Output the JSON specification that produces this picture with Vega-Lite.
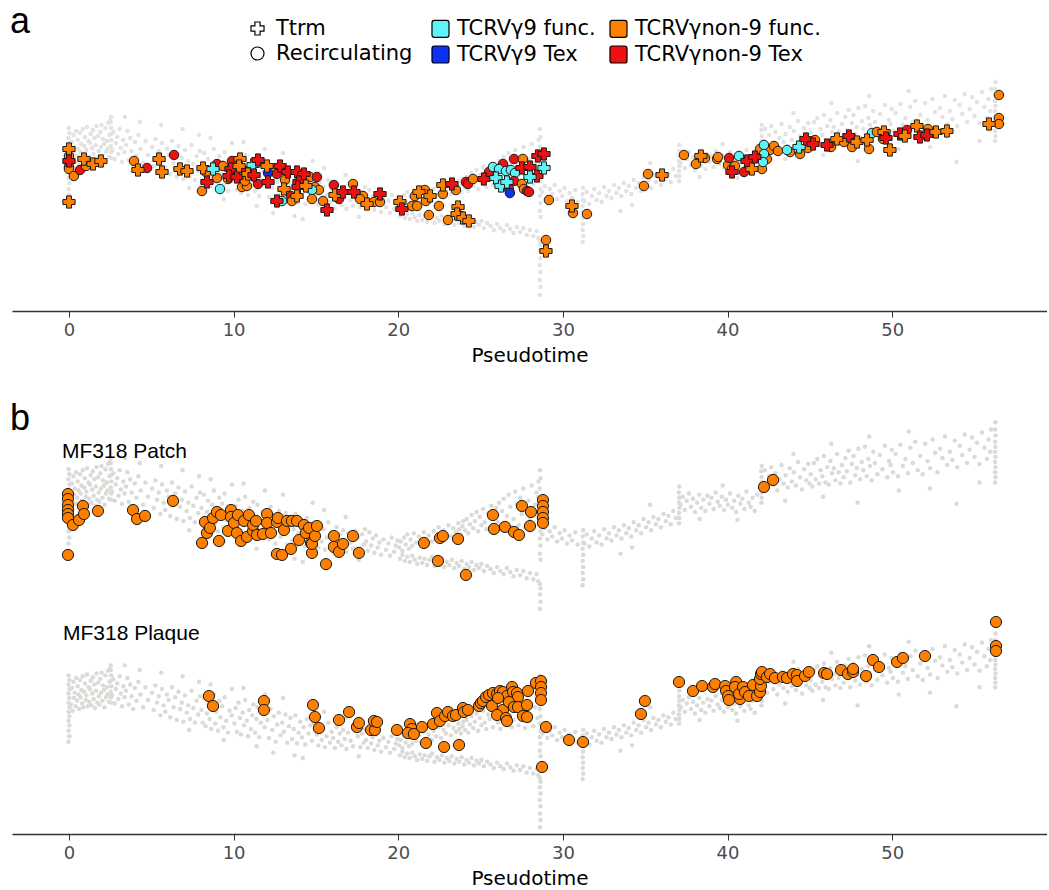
{
"$schema":"https://vega.github.io/schema/vega-lite/v6.json",
"background":"white",
"padding":{"left":10,"top":4,"right":0,"bottom":0},
"config":{"view":{"stroke":null},
"axis":{"grid":false,"domainColor":"#333333","domainWidth":1.5,"tickColor":"#333333","tickWidth":1,"tickSize":6,"labelFont":"DejaVu Sans","labelFontSize":18,"labelColor":"#4d4d4d","titleFont":"DejaVu Sans","titleFontSize":20,"titleFontWeight":"normal","titleColor":"black","labelPadding":4,"titlePadding":6}},
"datasets":{
"bg":[
{"t":-0.03,"v":11.0},{"t":0.02,"v":11.6},{"t":-0.02,"v":12.2},{"t":0.03,"v":12.8},{"t":-0.03,"v":13.3},{"t":0.02,"v":13.8},{"t":-0.02,"v":14.3},{"t":0.03,"v":14.8},{"t":-0.03,"v":15.3},{"t":0.02,"v":15.8},{"t":-0.02,"v":16.3},{"t":0.03,"v":16.8},{"t":-0.03,"v":17.3},{"t":0.02,"v":17.8},{"t":-0.02,"v":18.3},
{"t":0.12,"v":15.1},{"t":0.18,"v":16.9},{"t":0.22,"v":14.4},{"t":0.27,"v":17.6},{"t":0.31,"v":15.8},{"t":0.35,"v":16.4},{"t":0.41,"v":14.9},{"t":0.44,"v":18.0},{"t":0.5,"v":15.5},{"t":0.53,"v":17.1},{"t":0.58,"v":16.2},{"t":0.62,"v":14.6},{"t":0.67,"v":17.8},{"t":0.71,"v":15.9},{"t":0.75,"v":16.7},{"t":0.8,"v":15.2},{"t":0.84,"v":18.2},{"t":0.88,"v":14.8},{"t":0.93,"v":16.5},{"t":0.97,"v":17.4},{"t":1.02,"v":15.6},{"t":1.06,"v":16.1},{"t":1.1,"v":18.4},{"t":1.15,"v":14.9},{"t":1.19,"v":17.0},{"t":1.23,"v":15.4},{"t":1.28,"v":16.8},{"t":1.32,"v":17.7},{"t":1.36,"v":15.0},{"t":1.41,"v":16.3},{"t":1.45,"v":18.1},{"t":1.5,"v":15.7},{"t":1.54,"v":17.3},{"t":1.58,"v":14.7},{"t":1.63,"v":16.6},{"t":1.67,"v":18.5},{"t":1.72,"v":15.3},{"t":1.76,"v":17.5},{"t":1.81,"v":16.0},{"t":1.85,"v":15.1},{"t":1.9,"v":17.9},{"t":1.94,"v":16.4},{"t":1.98,"v":18.6},{"t":2.03,"v":15.5},{"t":2.07,"v":17.2},{"t":2.12,"v":16.7},{"t":2.16,"v":14.8},{"t":2.21,"v":18.3},{"t":2.25,"v":15.9},{"t":2.3,"v":17.0},{"t":2.34,"v":16.2},{"t":2.38,"v":18.8},{"t":2.43,"v":15.4},{"t":2.46,"v":17.6},{"t":2.49,"v":19.0},
{"t":2.55,"v":15.3},{"t":2.56,"v":15.9},{"t":2.54,"v":16.5},{"t":2.57,"v":17.1},{"t":2.55,"v":17.7},{"t":2.56,"v":18.3},{"t":2.54,"v":18.9},{"t":2.55,"v":19.4},
{"t":2.62,"v":16.1},{"t":2.7,"v":17.9},{"t":2.78,"v":15.2},{"t":2.85,"v":16.8},{"t":2.93,"v":17.4},{"t":3.0,"v":15.7},{"t":3.08,"v":18.2},{"t":3.15,"v":16.3},{"t":3.22,"v":14.9},{"t":3.3,"v":17.1},{"t":3.38,"v":15.9},{"t":3.46,"v":16.6},{"t":3.55,"v":18.0},{"t":3.63,"v":15.1},{"t":3.72,"v":17.3},{"t":3.8,"v":16.0},{"t":3.9,"v":14.6},{"t":4.0,"v":16.9},{"t":4.1,"v":15.5},{"t":4.22,"v":17.6},{"t":4.35,"v":16.2},{"t":4.5,"v":14.8},{"t":4.65,"v":17.0},{"t":4.8,"v":15.6},{"t":3.4,"v":19.4},{"t":4.3,"v":18.9},
{"t":5.05,"v":16.4},{"t":5.15,"v":14.5},{"t":5.25,"v":17.2},{"t":5.35,"v":15.3},{"t":5.45,"v":16.0},{"t":5.55,"v":13.9},{"t":5.65,"v":16.8},{"t":5.75,"v":15.0},{"t":5.85,"v":14.3},{"t":5.95,"v":16.2},{"t":6.05,"v":15.6},{"t":6.15,"v":13.7},{"t":6.25,"v":17.0},{"t":6.35,"v":14.8},{"t":6.45,"v":15.9},{"t":6.55,"v":13.4},{"t":6.65,"v":16.5},{"t":6.75,"v":14.6},{"t":6.85,"v":15.3},{"t":6.95,"v":13.2},{"t":7.05,"v":16.1},{"t":7.15,"v":14.2},{"t":7.25,"v":15.0},{"t":7.35,"v":13.5},{"t":7.45,"v":16.6},{"t":7.55,"v":14.7},{"t":7.65,"v":13.1},{"t":7.75,"v":15.5},{"t":7.85,"v":14.0},{"t":7.95,"v":16.0},{"t":5.6,"v":18.6},{"t":6.9,"v":18.2},{"t":7.3,"v":12.3},{"t":7.9,"v":17.6},
{"t":8.05,"v":14.5},{"t":8.12,"v":13.1},{"t":8.2,"v":15.8},{"t":8.3,"v":12.7},{"t":8.38,"v":14.1},{"t":8.45,"v":15.2},{"t":8.55,"v":13.5},{"t":8.63,"v":12.4},{"t":8.7,"v":14.8},{"t":8.8,"v":16.2},{"t":8.88,"v":13.0},{"t":8.95,"v":14.3},{"t":9.05,"v":12.2},{"t":9.13,"v":15.5},{"t":9.2,"v":13.7},{"t":9.3,"v":14.9},{"t":9.38,"v":12.6},{"t":9.45,"v":15.9},{"t":9.55,"v":13.3},{"t":9.65,"v":12.0},{"t":9.75,"v":14.4},{"t":9.88,"v":13.9},{"t":8.6,"v":17.3},{"t":9.4,"v":11.2},{"t":9.9,"v":16.8},
{"t":10.05,"v":13.0},{"t":10.12,"v":14.7},{"t":10.2,"v":12.1},{"t":10.3,"v":15.3},{"t":10.38,"v":13.6},{"t":10.45,"v":11.8},{"t":10.55,"v":14.2},{"t":10.63,"v":12.8},{"t":10.7,"v":15.6},{"t":10.8,"v":13.3},{"t":10.88,"v":11.6},{"t":10.95,"v":14.5},{"t":11.05,"v":12.4},{"t":11.13,"v":13.9},{"t":11.2,"v":15.1},{"t":11.3,"v":12.0},{"t":11.38,"v":13.5},{"t":11.45,"v":14.8},{"t":11.55,"v":11.5},{"t":11.65,"v":13.1},{"t":11.75,"v":14.1},{"t":11.88,"v":12.6},{"t":10.6,"v":16.9},{"t":11.4,"v":10.5},{"t":11.9,"v":16.2},
{"t":12.05,"v":13.4},{"t":12.15,"v":11.4},{"t":12.25,"v":14.6},{"t":12.35,"v":12.3},{"t":12.45,"v":13.8},{"t":12.55,"v":11.0},{"t":12.65,"v":12.9},{"t":12.75,"v":14.2},{"t":12.85,"v":11.7},{"t":12.95,"v":13.1},{"t":13.05,"v":12.1},{"t":13.15,"v":14.0},{"t":13.25,"v":10.9},{"t":13.35,"v":12.7},{"t":13.45,"v":13.6},{"t":13.55,"v":11.3},{"t":13.65,"v":12.4},{"t":13.75,"v":13.9},{"t":13.85,"v":10.8},{"t":13.95,"v":12.0},{"t":14.05,"v":13.2},{"t":14.15,"v":11.5},{"t":14.25,"v":12.6},{"t":14.35,"v":10.7},{"t":14.45,"v":13.5},{"t":14.55,"v":11.9},{"t":14.65,"v":12.8},{"t":14.75,"v":11.1},{"t":14.85,"v":13.0},{"t":14.95,"v":12.2},{"t":12.4,"v":9.8},{"t":13.0,"v":15.8},{"t":13.7,"v":9.5},{"t":14.2,"v":9.2},{"t":14.8,"v":15.0},
{"t":15.05,"v":11.8},{"t":15.15,"v":10.6},{"t":15.25,"v":12.9},{"t":15.35,"v":11.2},{"t":15.45,"v":12.4},{"t":15.55,"v":10.4},{"t":15.65,"v":11.6},{"t":15.75,"v":13.1},{"t":15.85,"v":10.9},{"t":15.95,"v":12.1},{"t":16.05,"v":11.4},{"t":16.15,"v":10.3},{"t":16.25,"v":12.6},{"t":16.35,"v":11.0},{"t":16.45,"v":11.9},{"t":16.55,"v":10.6},{"t":16.65,"v":12.3},{"t":16.75,"v":11.3},{"t":16.85,"v":10.2},{"t":16.95,"v":12.0},{"t":17.1,"v":11.1},{"t":17.25,"v":10.5},{"t":17.4,"v":12.2},{"t":17.55,"v":11.6},{"t":17.7,"v":10.4},{"t":17.8,"v":11.9},{"t":17.9,"v":10.9},{"t":17.98,"v":12.4},{"t":15.5,"v":14.3},{"t":16.8,"v":13.6},{"t":17.6,"v":9.4},
{"t":18.05,"v":11.2},{"t":18.15,"v":10.3},{"t":18.25,"v":12.1},{"t":18.35,"v":10.8},{"t":18.45,"v":11.5},{"t":18.55,"v":10.1},{"t":18.65,"v":11.8},{"t":18.75,"v":10.6},{"t":18.85,"v":11.1},{"t":18.95,"v":9.9},{"t":19.1,"v":11.4},{"t":19.25,"v":10.4},{"t":19.4,"v":11.0},{"t":19.5,"v":9.8},{"t":19.6,"v":11.6},{"t":19.75,"v":10.2},{"t":19.85,"v":10.8},{"t":19.95,"v":11.3},
{"t":20.05,"v":10.6},{"t":20.15,"v":11.2},{"t":20.25,"v":10.3},{"t":20.35,"v":11.6},{"t":20.45,"v":10.9},{"t":20.55,"v":11.9},{"t":20.65,"v":10.5},{"t":20.75,"v":11.4},{"t":20.85,"v":10.8},{"t":20.95,"v":12.0},{"t":21.1,"v":11.1},{"t":21.25,"v":11.7},{"t":21.4,"v":10.9},{"t":21.55,"v":12.1},{"t":21.7,"v":11.3},{"t":21.85,"v":11.8},
{"t":22.05,"v":11.2},{"t":22.15,"v":12.2},{"t":22.3,"v":11.6},{"t":22.45,"v":12.6},{"t":22.6,"v":11.4},{"t":22.75,"v":12.3},{"t":22.9,"v":11.9},{"t":23.05,"v":12.8},{"t":23.2,"v":11.7},{"t":23.35,"v":12.5},{"t":23.5,"v":12.1},{"t":23.65,"v":13.0},{"t":23.8,"v":11.9},{"t":23.9,"v":12.7},{"t":23.95,"v":13.2},{"t":23.7,"v":12.4},
{"t":24.05,"v":12.3},{"t":24.15,"v":13.4},{"t":24.25,"v":12.0},{"t":24.35,"v":12.9},{"t":24.45,"v":13.8},{"t":24.55,"v":12.5},{"t":24.65,"v":13.2},{"t":24.75,"v":14.1},{"t":24.85,"v":12.2},{"t":24.95,"v":13.6},{"t":25.05,"v":12.8},{"t":25.15,"v":14.4},{"t":25.25,"v":13.1},{"t":25.35,"v":12.4},{"t":25.45,"v":14.0},{"t":25.55,"v":13.5},{"t":25.65,"v":14.7},{"t":25.75,"v":12.6},{"t":25.85,"v":13.9},{"t":25.95,"v":14.5},
{"t":26.05,"v":13.1},{"t":26.12,"v":15.0},{"t":26.2,"v":12.4},{"t":26.3,"v":14.2},{"t":26.4,"v":15.4},{"t":26.5,"v":12.9},{"t":26.6,"v":13.7},{"t":26.7,"v":15.8},{"t":26.8,"v":14.6},{"t":26.9,"v":12.6},{"t":27.0,"v":13.4},{"t":27.1,"v":16.1},{"t":27.2,"v":14.9},{"t":27.3,"v":12.8},{"t":27.4,"v":15.5},{"t":27.5,"v":13.9},{"t":27.6,"v":16.4},{"t":27.7,"v":12.5},{"t":27.8,"v":14.4},{"t":27.9,"v":15.2},{"t":28.0,"v":13.3},{"t":28.1,"v":16.7},{"t":28.2,"v":12.7},{"t":28.3,"v":14.8},{"t":28.4,"v":16.0},{"t":28.45,"v":13.6},{"t":28.5,"v":15.6},{"t":28.52,"v":17.1},
{"t":20.1,"v":9.5},{"t":20.25,"v":9.9},{"t":20.4,"v":9.3},{"t":20.55,"v":9.7},{"t":20.7,"v":9.2},{"t":20.85,"v":9.8},{"t":21.0,"v":9.4},{"t":21.15,"v":9.0},{"t":21.3,"v":9.6},{"t":21.45,"v":9.1},{"t":21.6,"v":9.5},{"t":21.75,"v":8.9},{"t":21.9,"v":9.4},{"t":22.05,"v":9.7},{"t":22.2,"v":8.8},{"t":22.35,"v":9.3},{"t":22.5,"v":9.0},{"t":22.65,"v":9.5},{"t":22.8,"v":8.7},{"t":22.95,"v":9.2},{"t":23.1,"v":8.9},{"t":23.25,"v":9.4},{"t":23.4,"v":8.6},{"t":23.55,"v":9.1},{"t":23.7,"v":8.8},{"t":23.85,"v":9.3},{"t":24.0,"v":8.5},{"t":24.15,"v":9.0},{"t":24.3,"v":8.7},{"t":24.45,"v":9.2},{"t":24.6,"v":8.4},{"t":24.75,"v":8.9},{"t":24.9,"v":8.6},{"t":25.05,"v":9.0},{"t":25.2,"v":8.3},{"t":25.4,"v":8.8},{"t":25.6,"v":8.5},{"t":25.8,"v":8.1},{"t":26.0,"v":8.7},{"t":26.2,"v":8.3},{"t":26.4,"v":8.0},{"t":26.6,"v":8.6},{"t":26.8,"v":8.2},{"t":27.0,"v":7.8},{"t":27.2,"v":8.4},{"t":27.4,"v":7.9},{"t":27.6,"v":8.3},{"t":27.8,"v":7.6},{"t":28.0,"v":8.1},{"t":28.2,"v":7.5},{"t":28.4,"v":8.0},{"t":28.5,"v":7.3},
{"t":28.6,"v":1.6},{"t":28.64,"v":2.4},{"t":28.6,"v":3.1},{"t":28.64,"v":3.9},{"t":28.6,"v":4.6},{"t":28.64,"v":5.3},{"t":28.6,"v":6.0},{"t":28.64,"v":6.6},{"t":28.6,"v":7.0},{"t":28.64,"v":9.4},{"t":28.6,"v":10.0},{"t":28.64,"v":10.8},{"t":28.6,"v":11.5},{"t":28.64,"v":12.2},{"t":28.6,"v":13.0},{"t":28.64,"v":13.8},{"t":28.6,"v":14.6},{"t":28.64,"v":15.4},{"t":28.6,"v":16.4},{"t":28.64,"v":17.4},{"t":28.6,"v":18.2},
{"t":28.75,"v":11.9},{"t":28.9,"v":12.5},{"t":29.05,"v":11.4},{"t":29.2,"v":12.2},{"t":29.35,"v":11.7},{"t":29.5,"v":12.6},{"t":29.65,"v":11.2},{"t":29.8,"v":12.0},{"t":29.95,"v":11.5},{"t":30.1,"v":12.3},{"t":30.25,"v":11.0},{"t":30.4,"v":11.8},{"t":30.55,"v":11.3},{"t":30.75,"v":12.1},{"t":30.9,"v":10.9},
{"t":31.2,"v":6.9},{"t":31.23,"v":7.5},{"t":31.2,"v":8.1},{"t":31.23,"v":8.7},{"t":31.2,"v":9.3},{"t":31.23,"v":9.9},{"t":31.2,"v":10.5},{"t":31.23,"v":11.1},{"t":31.2,"v":11.7},{"t":31.23,"v":12.3},
{"t":31.3,"v":11.0},{"t":31.45,"v":11.9},{"t":31.6,"v":10.7},{"t":31.75,"v":11.5},{"t":31.9,"v":12.2},{"t":32.05,"v":11.1},{"t":32.2,"v":11.8},{"t":32.35,"v":10.9},{"t":32.5,"v":12.4},{"t":32.65,"v":11.5},{"t":32.8,"v":12.0},{"t":32.95,"v":11.3},{"t":33.1,"v":12.6},{"t":33.25,"v":11.8},{"t":33.4,"v":12.3},{"t":33.55,"v":11.5},{"t":33.7,"v":12.8},{"t":33.85,"v":12.0},{"t":34.0,"v":12.5},{"t":34.15,"v":11.7},{"t":34.3,"v":13.1},{"t":34.45,"v":12.3},{"t":34.6,"v":12.8},{"t":34.75,"v":12.0},{"t":34.9,"v":13.4},{"t":35.05,"v":12.6},{"t":35.2,"v":13.1},{"t":35.35,"v":12.3},{"t":35.5,"v":13.6},{"t":35.65,"v":12.9},{"t":35.8,"v":13.4},{"t":35.95,"v":12.6},{"t":36.1,"v":13.9},{"t":36.25,"v":13.2},{"t":36.4,"v":13.7},{"t":36.55,"v":12.9},{"t":36.7,"v":14.2},{"t":36.85,"v":13.5},{"t":33.5,"v":10.0},{"t":35.3,"v":14.8},{"t":34.2,"v":10.6},
{"t":37.05,"v":13.0},{"t":37.07,"v":13.5},{"t":37.05,"v":14.0},{"t":37.07,"v":14.5},{"t":37.05,"v":15.0},{"t":37.07,"v":15.5},{"t":37.05,"v":16.0},{"t":37.07,"v":16.6},
{"t":37.15,"v":14.8},{"t":37.28,"v":15.6},{"t":37.4,"v":14.3},{"t":37.52,"v":15.2},{"t":37.65,"v":15.9},{"t":37.78,"v":14.6},{"t":37.9,"v":15.4},{"t":38.02,"v":14.1},{"t":38.15,"v":15.0},{"t":38.28,"v":15.8},{"t":38.4,"v":14.5},{"t":38.52,"v":15.3},{"t":38.65,"v":14.2},{"t":38.78,"v":15.7},{"t":38.9,"v":14.9},{"t":39.02,"v":15.5},{"t":39.15,"v":14.4},{"t":39.28,"v":16.0},{"t":39.4,"v":15.1},{"t":39.52,"v":14.7},{"t":39.65,"v":15.6},{"t":39.78,"v":14.3},{"t":39.9,"v":15.3},{"t":40.02,"v":14.8},{"t":40.15,"v":15.9},{"t":40.28,"v":14.5},{"t":40.4,"v":15.2},{"t":40.52,"v":14.1},{"t":40.65,"v":15.7},{"t":40.78,"v":14.9},{"t":40.9,"v":15.4},{"t":41.02,"v":14.4},{"t":41.15,"v":16.1},{"t":41.28,"v":15.0},{"t":41.4,"v":14.6},{"t":41.52,"v":15.5},{"t":41.65,"v":14.2},{"t":41.8,"v":15.8},{"t":38.3,"v":13.4},{"t":40.6,"v":13.3},{"t":39.7,"v":16.7},
{"t":42.05,"v":15.0},{"t":42.07,"v":15.5},{"t":42.05,"v":16.0},{"t":42.07,"v":16.5},{"t":42.05,"v":17.0},{"t":42.07,"v":17.5},{"t":42.05,"v":18.1},{"t":42.07,"v":18.6},
{"t":42.15,"v":17.0},{"t":42.27,"v":18.2},{"t":42.4,"v":16.4},{"t":42.52,"v":17.6},{"t":42.65,"v":18.5},{"t":42.78,"v":16.8},{"t":42.9,"v":17.9},{"t":43.02,"v":16.2},{"t":43.15,"v":17.3},{"t":43.28,"v":18.7},{"t":43.4,"v":16.9},{"t":43.52,"v":17.7},{"t":43.65,"v":16.5},{"t":43.78,"v":18.4},{"t":43.9,"v":17.1},{"t":44.02,"v":18.0},{"t":44.15,"v":16.7},{"t":44.28,"v":19.0},{"t":44.4,"v":17.5},{"t":44.52,"v":16.3},{"t":44.65,"v":18.3},{"t":44.78,"v":17.2},{"t":44.9,"v":18.8},{"t":44.98,"v":16.9},
{"t":45.05,"v":17.8},{"t":45.15,"v":16.6},{"t":45.25,"v":18.9},{"t":45.35,"v":17.3},{"t":45.45,"v":19.3},{"t":45.55,"v":16.9},{"t":45.65,"v":18.2},{"t":45.75,"v":17.6},{"t":45.85,"v":19.6},{"t":45.95,"v":17.0},{"t":46.05,"v":18.5},{"t":46.15,"v":16.8},{"t":46.25,"v":19.1},{"t":46.35,"v":17.9},{"t":46.45,"v":18.4},{"t":46.55,"v":17.2},{"t":46.65,"v":19.8},{"t":46.75,"v":18.0},{"t":46.85,"v":16.9},{"t":46.95,"v":18.7},
{"t":47.05,"v":17.5},{"t":47.15,"v":19.4},{"t":47.25,"v":18.1},{"t":47.35,"v":20.1},{"t":47.45,"v":17.0},{"t":47.55,"v":18.8},{"t":47.65,"v":19.6},{"t":47.75,"v":17.7},{"t":47.85,"v":18.4},{"t":47.95,"v":20.3},{"t":48.05,"v":17.3},{"t":48.15,"v":19.0},{"t":48.25,"v":18.2},{"t":48.35,"v":20.5},{"t":48.45,"v":17.6},{"t":48.55,"v":19.3},{"t":48.65,"v":18.6},{"t":48.75,"v":17.2},{"t":48.85,"v":20.0},{"t":48.95,"v":18.9},{"t":49.1,"v":17.8},{"t":49.25,"v":19.7},{"t":49.4,"v":18.3},{"t":49.55,"v":20.6},{"t":49.7,"v":17.5},{"t":49.8,"v":19.1},{"t":49.9,"v":18.7},{"t":49.97,"v":20.2},
{"t":50.05,"v":18.0},{"t":50.2,"v":19.8},{"t":50.35,"v":17.6},{"t":50.5,"v":20.7},{"t":50.65,"v":18.6},{"t":50.8,"v":19.3},{"t":50.95,"v":17.9},{"t":51.1,"v":20.4},{"t":51.25,"v":18.9},{"t":51.4,"v":21.0},{"t":51.55,"v":18.2},{"t":51.7,"v":19.6},{"t":51.85,"v":17.8},{"t":52.0,"v":20.8},{"t":52.15,"v":19.1},{"t":52.3,"v":18.4},{"t":52.45,"v":21.2},{"t":52.6,"v":19.9},{"t":52.75,"v":18.0},{"t":52.9,"v":20.3},{"t":53.05,"v":19.4},{"t":53.2,"v":21.5},{"t":53.35,"v":18.7},{"t":53.5,"v":20.0},
{"t":53.65,"v":19.2},{"t":53.8,"v":21.1},{"t":53.95,"v":18.5},{"t":54.1,"v":20.6},{"t":54.25,"v":19.7},{"t":54.4,"v":21.7},{"t":54.55,"v":18.9},{"t":54.7,"v":20.2},{"t":54.85,"v":21.4},{"t":55.0,"v":19.5},{"t":55.15,"v":20.9},{"t":55.3,"v":18.8},{"t":55.45,"v":21.9},{"t":55.6,"v":20.4},{"t":55.75,"v":19.3},{"t":55.85,"v":21.2},{"t":55.95,"v":20.0},{"t":56.0,"v":22.2},
{"t":43.5,"v":15.2},{"t":45.8,"v":15.6},{"t":47.9,"v":15.0},{"t":50.4,"v":16.2},{"t":52.3,"v":16.4},{"t":53.9,"v":14.9},{"t":55.3,"v":17.0},{"t":48.6,"v":21.5},{"t":51.0,"v":22.0},{"t":46.3,"v":20.8},{"t":44.0,"v":19.8},
{"t":56.25,"v":17.0},{"t":56.27,"v":17.5},{"t":56.25,"v":18.0},{"t":56.27,"v":18.5},{"t":56.25,"v":19.0},{"t":56.27,"v":19.5},{"t":56.25,"v":20.0},{"t":56.27,"v":20.5},{"t":56.25,"v":21.0},{"t":56.27,"v":21.6},{"t":56.25,"v":22.2},{"t":56.27,"v":22.9}
],
"a":[
{"t":0,"v":16.2,"shape":"Ttrm","cat":"TCRVγnon-9 func."},
{"t":0,"v":15.5,"shape":"Recirculating","cat":"TCRVγnon-9 func."},
{"t":0,"v":14.9,"shape":"Recirculating","cat":"TCRVγnon-9 func."},
{"t":0,"v":14.4,"shape":"Recirculating","cat":"TCRVγnon-9 func."},
{"t":0,"v":14.2,"shape":"Recirculating","cat":"TCRVγnon-9 func."},
{"t":0,"v":15.0,"shape":"Ttrm","cat":"TCRVγnon-9 Tex"},
{"t":0.3,"v":13.5,"shape":"Recirculating","cat":"TCRVγnon-9 func."},
{"t":0.67,"v":14.1,"shape":"Recirculating","cat":"TCRVγnon-9 Tex"},
{"t":0.91,"v":15.2,"shape":"Ttrm","cat":"TCRVγnon-9 func."},
{"t":1.03,"v":14.5,"shape":"Recirculating","cat":"TCRVγnon-9 func."},
{"t":1.46,"v":14.7,"shape":"Ttrm","cat":"TCRVγnon-9 func."},
{"t":1.94,"v":15.0,"shape":"Ttrm","cat":"TCRVγnon-9 func."},
{"t":0,"v":10.9,"shape":"Ttrm","cat":"TCRVγnon-9 func."},
{"t":3.95,"v":15.0,"shape":"Recirculating","cat":"TCRVγnon-9 func."},
{"t":4.19,"v":14.1,"shape":"Ttrm","cat":"TCRVγnon-9 func."},
{"t":4.74,"v":14.3,"shape":"Recirculating","cat":"TCRVγnon-9 Tex"},
{"t":5.47,"v":15.2,"shape":"Ttrm","cat":"TCRVγnon-9 func."},
{"t":5.65,"v":13.9,"shape":"Ttrm","cat":"TCRVγnon-9 func."},
{"t":6.38,"v":15.6,"shape":"Recirculating","cat":"TCRVγnon-9 Tex"},
{"t":6.74,"v":14.2,"shape":"Ttrm","cat":"TCRVγnon-9 func."},
{"t":7.17,"v":14.0,"shape":"Ttrm","cat":"TCRVγnon-9 func."},
{"t":8.14,"v":14.3,"shape":"Ttrm","cat":"TCRVγnon-9 func."},
{"t":8.32,"v":13.9,"shape":"Recirculating","cat":"TCRVγnon-9 func."},
{"t":8.99,"v":14.7,"shape":"Recirculating","cat":"TCRVγnon-9 Tex"},
{"t":9.35,"v":14.5,"shape":"Recirculating","cat":"TCRVγnon-9 func."},
{"t":8.99,"v":13.3,"shape":"Recirculating","cat":"TCRVγnon-9 func."},
{"t":8.38,"v":12.9,"shape":"Ttrm","cat":"TCRVγnon-9 Tex"},
{"t":8.08,"v":12.0,"shape":"Recirculating","cat":"TCRVγnon-9 func."},
{"t":8.75,"v":14.2,"shape":"Ttrm","cat":"TCRVγ9 func."},
{"t":9.17,"v":12.2,"shape":"Recirculating","cat":"TCRVγ9 func."},
{"t":9.9,"v":15.0,"shape":"Recirculating","cat":"TCRVγnon-9 Tex"},
{"t":10.39,"v":15.2,"shape":"Ttrm","cat":"TCRVγnon-9 func."},
{"t":9.66,"v":13.2,"shape":"Recirculating","cat":"TCRVγnon-9 func."},
{"t":9.84,"v":14.2,"shape":"Ttrm","cat":"TCRVγnon-9 Tex"},
{"t":9.72,"v":13.5,"shape":"Ttrm","cat":"TCRVγnon-9 Tex"},
{"t":10.2,"v":13.4,"shape":"Ttrm","cat":"TCRVγnon-9 Tex"},
{"t":10.33,"v":14.5,"shape":"Ttrm","cat":"TCRVγnon-9 func."},
{"t":10.69,"v":14.0,"shape":"Recirculating","cat":"TCRVγnon-9 Tex"},
{"t":10.87,"v":13.7,"shape":"Ttrm","cat":"TCRVγnon-9 func."},
{"t":10.51,"v":12.4,"shape":"Recirculating","cat":"TCRVγnon-9 func."},
{"t":10.81,"v":12.5,"shape":"Recirculating","cat":"TCRVγnon-9 func."},
{"t":10.69,"v":13.0,"shape":"Recirculating","cat":"TCRVγnon-9 func."},
{"t":11.18,"v":14.6,"shape":"Ttrm","cat":"TCRVγ9 func."},
{"t":11.48,"v":15.1,"shape":"Ttrm","cat":"TCRVγnon-9 Tex"},
{"t":11.24,"v":13.6,"shape":"Ttrm","cat":"TCRVγnon-9 Tex"},
{"t":11.48,"v":12.7,"shape":"Recirculating","cat":"TCRVγnon-9 Tex"},
{"t":12.03,"v":14.5,"shape":"Ttrm","cat":"TCRVγnon-9 func."},
{"t":12.39,"v":14.2,"shape":"Recirculating","cat":"TCRVγnon-9 func."},
{"t":12.09,"v":12.9,"shape":"Ttrm","cat":"TCRVγnon-9 Tex"},
{"t":12.09,"v":13.8,"shape":"Recirculating","cat":"TCRVγ9 Tex"},
{"t":12.63,"v":13.7,"shape":"Recirculating","cat":"TCRVγnon-9 Tex"},
{"t":12.82,"v":14.5,"shape":"Ttrm","cat":"TCRVγnon-9 Tex"},
{"t":13.12,"v":13.1,"shape":"Recirculating","cat":"TCRVγnon-9 func."},
{"t":13.06,"v":12.2,"shape":"Ttrm","cat":"TCRVγnon-9 func."},
{"t":13.3,"v":13.9,"shape":"Ttrm","cat":"TCRVγnon-9 Tex"},
{"t":13.85,"v":13.9,"shape":"Ttrm","cat":"TCRVγnon-9 Tex"},
{"t":14.27,"v":13.7,"shape":"Ttrm","cat":"TCRVγnon-9 Tex"},
{"t":13.97,"v":12.9,"shape":"Ttrm","cat":"TCRVγnon-9 Tex"},
{"t":13.91,"v":12.4,"shape":"Ttrm","cat":"TCRVγnon-9 Tex"},
{"t":14.64,"v":13.4,"shape":"Recirculating","cat":"TCRVγnon-9 func."},
{"t":15.06,"v":13.4,"shape":"Recirculating","cat":"TCRVγnon-9 Tex"},
{"t":14.39,"v":12.5,"shape":"Ttrm","cat":"TCRVγnon-9 func."},
{"t":14.94,"v":12.4,"shape":"Recirculating","cat":"TCRVγnon-9 func."},
{"t":15.18,"v":12.1,"shape":"Recirculating","cat":"TCRVγnon-9 func."},
{"t":14.76,"v":12.1,"shape":"Recirculating","cat":"TCRVγ9 func."},
{"t":13.85,"v":11.5,"shape":"Ttrm","cat":"TCRVγnon-9 func."},
{"t":13.48,"v":11.5,"shape":"Recirculating","cat":"TCRVγnon-9 Tex"},
{"t":12.63,"v":11.0,"shape":"Ttrm","cat":"TCRVγnon-9 Tex"},
{"t":12.94,"v":11.0,"shape":"Recirculating","cat":"TCRVγ9 func."},
{"t":13.54,"v":11.0,"shape":"Recirculating","cat":"TCRVγnon-9 func."},
{"t":14.76,"v":11.2,"shape":"Recirculating","cat":"TCRVγnon-9 func."},
{"t":15.43,"v":11.0,"shape":"Recirculating","cat":"TCRVγnon-9 func."},
{"t":15.67,"v":10.1,"shape":"Ttrm","cat":"TCRVγnon-9 Tex"},
{"t":16.09,"v":12.6,"shape":"Recirculating","cat":"TCRVγnon-9 Tex"},
{"t":16.16,"v":11.6,"shape":"Ttrm","cat":"TCRVγnon-9 func."},
{"t":16.4,"v":11.2,"shape":"Recirculating","cat":"TCRVγnon-9 Tex"},
{"t":16.64,"v":11.9,"shape":"Ttrm","cat":"TCRVγnon-9 Tex"},
{"t":17.25,"v":12.7,"shape":"Recirculating","cat":"TCRVγnon-9 func."},
{"t":17.31,"v":11.9,"shape":"Ttrm","cat":"TCRVγnon-9 Tex"},
{"t":17.86,"v":11.5,"shape":"Recirculating","cat":"TCRVγnon-9 func."},
{"t":17.67,"v":11.2,"shape":"Recirculating","cat":"TCRVγnon-9 func."},
{"t":18.1,"v":10.7,"shape":"Ttrm","cat":"TCRVγnon-9 func."},
{"t":18.52,"v":10.9,"shape":"Recirculating","cat":"TCRVγnon-9 func."},
{"t":18.89,"v":10.9,"shape":"Recirculating","cat":"TCRVγnon-9 func."},
{"t":18.89,"v":11.7,"shape":"Ttrm","cat":"TCRVγnon-9 Tex"},
{"t":20.1,"v":10.9,"shape":"Ttrm","cat":"TCRVγnon-9 func."},
{"t":20.22,"v":10.2,"shape":"Ttrm","cat":"TCRVγnon-9 Tex"},
{"t":20.83,"v":10.5,"shape":"Recirculating","cat":"TCRVγnon-9 func."},
{"t":21.14,"v":10.5,"shape":"Recirculating","cat":"TCRVγnon-9 func."},
{"t":21.01,"v":11.5,"shape":"Recirculating","cat":"TCRVγnon-9 func."},
{"t":21.26,"v":11.9,"shape":"Ttrm","cat":"TCRVγnon-9 func."},
{"t":21.62,"v":12.1,"shape":"Recirculating","cat":"TCRVγnon-9 func."},
{"t":21.93,"v":11.5,"shape":"Ttrm","cat":"TCRVγnon-9 func."},
{"t":21.68,"v":11.0,"shape":"Recirculating","cat":"TCRVγnon-9 func."},
{"t":22.47,"v":10.5,"shape":"Recirculating","cat":"TCRVγnon-9 func."},
{"t":21.86,"v":9.6,"shape":"Recirculating","cat":"TCRVγnon-9 func."},
{"t":22.71,"v":12.6,"shape":"Ttrm","cat":"TCRVγnon-9 func."},
{"t":22.71,"v":11.7,"shape":"Recirculating","cat":"TCRVγnon-9 func."},
{"t":23.26,"v":12.7,"shape":"Ttrm","cat":"TCRVγnon-9 Tex"},
{"t":23.5,"v":12.1,"shape":"Recirculating","cat":"TCRVγnon-9 func."},
{"t":24.11,"v":12.9,"shape":"Recirculating","cat":"TCRVγnon-9 Tex"},
{"t":24.23,"v":12.7,"shape":"Recirculating","cat":"TCRVγnon-9 Tex"},
{"t":24.54,"v":13.2,"shape":"Recirculating","cat":"TCRVγnon-9 func."},
{"t":25.2,"v":13.2,"shape":"Ttrm","cat":"TCRVγnon-9 Tex"},
{"t":23.63,"v":10.4,"shape":"Ttrm","cat":"TCRVγnon-9 func."},
{"t":23.57,"v":9.7,"shape":"Ttrm","cat":"TCRVγnon-9 func."},
{"t":23.93,"v":9.3,"shape":"Ttrm","cat":"TCRVγnon-9 func."},
{"t":24.29,"v":9.0,"shape":"Ttrm","cat":"TCRVγnon-9 func."},
{"t":23.02,"v":9.1,"shape":"Recirculating","cat":"TCRVγnon-9 func."},
{"t":25.51,"v":13.9,"shape":"Recirculating","cat":"TCRVγnon-9 Tex"},
{"t":26.36,"v":14.7,"shape":"Recirculating","cat":"TCRVγnon-9 Tex"},
{"t":27.03,"v":15.2,"shape":"Recirculating","cat":"TCRVγnon-9 Tex"},
{"t":27.57,"v":15.2,"shape":"Recirculating","cat":"TCRVγnon-9 func."},
{"t":25.75,"v":14.4,"shape":"Recirculating","cat":"TCRVγ9 func."},
{"t":26.12,"v":14.2,"shape":"Recirculating","cat":"TCRVγ9 func."},
{"t":26.54,"v":14.0,"shape":"Recirculating","cat":"TCRVγ9 func."},
{"t":26.84,"v":14.1,"shape":"Recirculating","cat":"TCRVγ9 func."},
{"t":27.09,"v":13.8,"shape":"Recirculating","cat":"TCRVγ9 func."},
{"t":27.03,"v":13.0,"shape":"Recirculating","cat":"TCRVγnon-9 Tex"},
{"t":27.51,"v":12.7,"shape":"Recirculating","cat":"TCRVγnon-9 func."},
{"t":27.63,"v":12.2,"shape":"Recirculating","cat":"TCRVγnon-9 func."},
{"t":27.82,"v":12.0,"shape":"Recirculating","cat":"TCRVγnon-9 Tex"},
{"t":27.94,"v":11.9,"shape":"Recirculating","cat":"TCRVγnon-9 Tex"},
{"t":26.72,"v":12.2,"shape":"Recirculating","cat":"TCRVγnon-9 Tex"},
{"t":26.78,"v":11.8,"shape":"Recirculating","cat":"TCRVγ9 Tex"},
{"t":27.51,"v":14.3,"shape":"Ttrm","cat":"TCRVγnon-9 Tex"},
{"t":28.0,"v":14.4,"shape":"Ttrm","cat":"TCRVγnon-9 Tex"},
{"t":28.42,"v":13.5,"shape":"Ttrm","cat":"TCRVγnon-9 Tex"},
{"t":28.48,"v":15.5,"shape":"Ttrm","cat":"TCRVγnon-9 Tex"},
{"t":28.85,"v":15.7,"shape":"Ttrm","cat":"TCRVγnon-9 Tex"},
{"t":25.93,"v":13.3,"shape":"Ttrm","cat":"TCRVγ9 func."},
{"t":26.24,"v":12.5,"shape":"Ttrm","cat":"TCRVγ9 func."},
{"t":26.6,"v":12.9,"shape":"Ttrm","cat":"TCRVγ9 func."},
{"t":28.0,"v":13.4,"shape":"Ttrm","cat":"TCRVγ9 func."},
{"t":28.85,"v":14.3,"shape":"Ttrm","cat":"TCRVγ9 func."},
{"t":29.15,"v":11.1,"shape":"Recirculating","cat":"TCRVγnon-9 func."},
{"t":30.55,"v":10.5,"shape":"Ttrm","cat":"TCRVγnon-9 func."},
{"t":30.61,"v":9.8,"shape":"Recirculating","cat":"TCRVγnon-9 func."},
{"t":31.46,"v":9.7,"shape":"Recirculating","cat":"TCRVγnon-9 func."},
{"t":28.97,"v":7.1,"shape":"Recirculating","cat":"TCRVγnon-9 func."},
{"t":28.97,"v":6.0,"shape":"Ttrm","cat":"TCRVγnon-9 func."},
{"t":35.17,"v":13.7,"shape":"Recirculating","cat":"TCRVγnon-9 func."},
{"t":34.92,"v":12.5,"shape":"Recirculating","cat":"TCRVγnon-9 func."},
{"t":36.02,"v":13.6,"shape":"Ttrm","cat":"TCRVγnon-9 func."},
{"t":37.35,"v":15.6,"shape":"Recirculating","cat":"TCRVγnon-9 func."},
{"t":38.08,"v":14.7,"shape":"Recirculating","cat":"TCRVγnon-9 func."},
{"t":38.38,"v":15.5,"shape":"Ttrm","cat":"TCRVγnon-9 func."},
{"t":38.63,"v":15.3,"shape":"Recirculating","cat":"TCRVγnon-9 func."},
{"t":39.36,"v":15.2,"shape":"Recirculating","cat":"TCRVγnon-9 func."},
{"t":39.42,"v":15.4,"shape":"Recirculating","cat":"TCRVγnon-9 func."},
{"t":40.03,"v":14.6,"shape":"Recirculating","cat":"TCRVγnon-9 func."},
{"t":40.27,"v":14.2,"shape":"Recirculating","cat":"TCRVγnon-9 func."},
{"t":40.45,"v":14.5,"shape":"Recirculating","cat":"TCRVγnon-9 func."},
{"t":40.09,"v":15.3,"shape":"Recirculating","cat":"TCRVγnon-9 Tex"},
{"t":40.69,"v":15.5,"shape":"Recirculating","cat":"TCRVγ9 func."},
{"t":40.27,"v":13.9,"shape":"Ttrm","cat":"TCRVγnon-9 Tex"},
{"t":41.0,"v":13.9,"shape":"Recirculating","cat":"TCRVγnon-9 Tex"},
{"t":41.18,"v":15.0,"shape":"Ttrm","cat":"TCRVγnon-9 Tex"},
{"t":41.48,"v":14.2,"shape":"Ttrm","cat":"TCRVγnon-9 func."},
{"t":41.66,"v":15.4,"shape":"Ttrm","cat":"TCRVγnon-9 Tex"},
{"t":41.85,"v":15.4,"shape":"Recirculating","cat":"TCRVγnon-9 Tex"},
{"t":42.09,"v":14.2,"shape":"Recirculating","cat":"TCRVγnon-9 func."},
{"t":41.97,"v":16.2,"shape":"Recirculating","cat":"TCRVγnon-9 func."},
{"t":42.39,"v":15.2,"shape":"Recirculating","cat":"TCRVγnon-9 func."},
{"t":42.58,"v":16.1,"shape":"Recirculating","cat":"TCRVγnon-9 func."},
{"t":42.82,"v":16.5,"shape":"Recirculating","cat":"TCRVγnon-9 func."},
{"t":42.21,"v":16.6,"shape":"Recirculating","cat":"TCRVγ9 func."},
{"t":42.21,"v":15.7,"shape":"Recirculating","cat":"TCRVγ9 func."},
{"t":42.15,"v":14.9,"shape":"Recirculating","cat":"TCRVγ9 func."},
{"t":43.06,"v":16.0,"shape":"Recirculating","cat":"TCRVγnon-9 func."},
{"t":43.79,"v":15.9,"shape":"Recirculating","cat":"TCRVγnon-9 func."},
{"t":43.61,"v":16.1,"shape":"Recirculating","cat":"TCRVγ9 func."},
{"t":44.4,"v":15.7,"shape":"Recirculating","cat":"TCRVγnon-9 func."},
{"t":44.34,"v":16.4,"shape":"Ttrm","cat":"TCRVγ9 func."},
{"t":44.88,"v":16.3,"shape":"Recirculating","cat":"TCRVγnon-9 func."},
{"t":45.31,"v":17.1,"shape":"Recirculating","cat":"TCRVγnon-9 func."},
{"t":44.76,"v":17.2,"shape":"Ttrm","cat":"TCRVγnon-9 Tex"},
{"t":45.19,"v":16.7,"shape":"Ttrm","cat":"TCRVγnon-9 Tex"},
{"t":46.28,"v":16.4,"shape":"Recirculating","cat":"TCRVγnon-9 func."},
{"t":46.04,"v":16.6,"shape":"Ttrm","cat":"TCRVγnon-9 Tex"},
{"t":46.64,"v":17.2,"shape":"Ttrm","cat":"TCRVγnon-9 func."},
{"t":47.07,"v":16.9,"shape":"Recirculating","cat":"TCRVγnon-9 func."},
{"t":47.37,"v":17.5,"shape":"Ttrm","cat":"TCRVγnon-9 Tex"},
{"t":47.56,"v":16.4,"shape":"Recirculating","cat":"TCRVγnon-9 func."},
{"t":47.86,"v":16.9,"shape":"Ttrm","cat":"TCRVγnon-9 func."},
{"t":48.47,"v":17.1,"shape":"Ttrm","cat":"TCRVγnon-9 func."},
{"t":48.59,"v":16.2,"shape":"Recirculating","cat":"TCRVγnon-9 func."},
{"t":48.77,"v":17.8,"shape":"Recirculating","cat":"TCRVγ9 func."},
{"t":49.07,"v":17.9,"shape":"Recirculating","cat":"TCRVγnon-9 func."},
{"t":49.44,"v":17.2,"shape":"Recirculating","cat":"TCRVγnon-9 func."},
{"t":49.5,"v":17.9,"shape":"Ttrm","cat":"TCRVγnon-9 func."},
{"t":49.62,"v":17.3,"shape":"Ttrm","cat":"TCRVγnon-9 Tex"},
{"t":49.86,"v":16.1,"shape":"Ttrm","cat":"TCRVγnon-9 func."},
{"t":50.47,"v":17.7,"shape":"Ttrm","cat":"TCRVγnon-9 Tex"},
{"t":50.9,"v":18.1,"shape":"Recirculating","cat":"TCRVγnon-9 Tex"},
{"t":50.77,"v":17.5,"shape":"Ttrm","cat":"TCRVγnon-9 func."},
{"t":52.17,"v":18.2,"shape":"Recirculating","cat":"TCRVγnon-9 func."},
{"t":51.5,"v":18.5,"shape":"Ttrm","cat":"TCRVγnon-9 func."},
{"t":51.68,"v":17.4,"shape":"Ttrm","cat":"TCRVγnon-9 Tex"},
{"t":52.11,"v":17.6,"shape":"Ttrm","cat":"TCRVγnon-9 Tex"},
{"t":52.66,"v":17.9,"shape":"Ttrm","cat":"TCRVγnon-9 func."},
{"t":53.32,"v":18.0,"shape":"Ttrm","cat":"TCRVγnon-9 func."},
{"t":56.48,"v":19.3,"shape":"Recirculating","cat":"TCRVγnon-9 func."},
{"t":56.48,"v":18.7,"shape":"Recirculating","cat":"TCRVγnon-9 func."},
{"t":56.48,"v":21.6,"shape":"Recirculating","cat":"TCRVγnon-9 func."},
{"t":55.88,"v":18.7,"shape":"Ttrm","cat":"TCRVγnon-9 func."}
],
"patch":[
{"t":-0.06,"v":15.86},{"t":-0.06,"v":15.37},{"t":-0.06,"v":14.78},{"t":-0.06,"v":14.29},{"t":-0.06,"v":13.9},{"t":-0.06,"v":13.51},{"t":-0.06,"v":9.88},{"t":0.24,"v":12.82},{"t":0.61,"v":13.31},{"t":0.85,"v":14.69},{"t":0.91,"v":13.9},{"t":1.76,"v":14.2},{"t":3.89,"v":14.29},{"t":4.13,"v":13.41},{"t":4.62,"v":13.71},{"t":6.32,"v":15.18},{"t":8.08,"v":11.06},{"t":8.26,"v":13.12},{"t":8.38,"v":12.04},{"t":8.56,"v":12.53},{"t":8.75,"v":13.51},{"t":8.99,"v":14.1},{"t":9.23,"v":13.8},{"t":9.11,"v":11.25},{"t":9.66,"v":12.24},{"t":9.84,"v":14.29},{"t":9.84,"v":13.61},{"t":10.02,"v":13.02},{"t":10.2,"v":12.04},{"t":10.26,"v":13.8},{"t":10.45,"v":11.25},{"t":10.81,"v":11.65},{"t":10.63,"v":13.22},{"t":10.93,"v":13.8},{"t":11.18,"v":12.24},{"t":11.18,"v":12.82},{"t":11.42,"v":11.84},{"t":11.78,"v":11.94},{"t":11.36,"v":13.22},{"t":12.03,"v":13.9},{"t":12.03,"v":13.02},{"t":12.27,"v":12.04},{"t":12.63,"v":13.12},{"t":12.69,"v":13.51},{"t":12.63,"v":9.98},{"t":12.94,"v":9.88},{"t":13.06,"v":12.33},{"t":13.24,"v":13.22},{"t":13.54,"v":13.22},{"t":13.85,"v":13.22},{"t":13.48,"v":10.47},{"t":13.97,"v":11.35},{"t":14.27,"v":12.82},{"t":14.39,"v":12.04},{"t":14.58,"v":12.53},{"t":14.7,"v":11.06},{"t":14.76,"v":10.08},{"t":14.76,"v":10.96},{"t":14.94,"v":11.74},{"t":15.06,"v":12.72},{"t":15.61,"v":8.98},{"t":16.09,"v":11.74},{"t":16.09,"v":10.67},{"t":16.4,"v":10.18},{"t":16.64,"v":10.96},{"t":17.25,"v":11.74},{"t":17.61,"v":10.08},{"t":21.56,"v":11.06},{"t":22.53,"v":11.55},{"t":22.71,"v":11.74},{"t":22.41,"v":9.29},{"t":23.63,"v":11.45},{"t":24.11,"v":7.92},{"t":25.75,"v":13.8},{"t":25.81,"v":12.43},{"t":26.48,"v":12.63},{"t":27.03,"v":12.14},{"t":27.33,"v":11.84},{"t":27.51,"v":14.69},{"t":28.06,"v":14.1},{"t":28.0,"v":12.72},{"t":28.79,"v":15.27},{"t":28.79,"v":14.69},{"t":28.79,"v":14.1},{"t":28.79,"v":13.51},{"t":28.79,"v":13.02},{"t":42.21,"v":16.55},{"t":42.76,"v":17.24}
],
"plaque":[
{"t":8.5,"v":16.03},{"t":8.75,"v":14.93},{"t":11.84,"v":15.48},{"t":11.84,"v":14.49},{"t":14.82,"v":15.04},{"t":14.94,"v":13.72},{"t":15.18,"v":12.51},{"t":16.4,"v":13.39},{"t":17.01,"v":14.27},{"t":17.49,"v":12.62},{"t":17.61,"v":13.06},{"t":18.34,"v":12.29},{"t":18.58,"v":12.29},{"t":18.52,"v":13.28},{"t":18.71,"v":13.17},{"t":19.92,"v":12.29},{"t":20.71,"v":12.95},{"t":20.83,"v":12.4},{"t":20.59,"v":11.96},{"t":20.95,"v":11.85},{"t":21.44,"v":12.62},{"t":21.68,"v":10.86},{"t":22.11,"v":12.95},{"t":22.35,"v":14.16},{"t":22.53,"v":13.28},{"t":22.84,"v":13.83},{"t":23.02,"v":14.27},{"t":23.32,"v":13.83},{"t":23.5,"v":13.94},{"t":22.78,"v":10.42},{"t":23.69,"v":10.64},{"t":23.93,"v":14.71},{"t":23.99,"v":14.27},{"t":24.23,"v":14.49},{"t":24.9,"v":14.93},{"t":25.02,"v":15.26},{"t":25.14,"v":15.48},{"t":25.33,"v":15.92},{"t":25.51,"v":16.14},{"t":25.75,"v":16.36},{"t":26.0,"v":16.25},{"t":26.18,"v":16.58},{"t":26.36,"v":16.47},{"t":26.6,"v":16.03},{"t":26.91,"v":17.02},{"t":26.97,"v":16.47},{"t":27.21,"v":16.36},{"t":27.27,"v":15.92},{"t":25.69,"v":14.93},{"t":26.06,"v":15.81},{"t":26.36,"v":14.49},{"t":26.72,"v":15.37},{"t":27.03,"v":14.82},{"t":27.27,"v":14.82},{"t":26.0,"v":13.94},{"t":26.54,"v":13.61},{"t":26.6,"v":13.28},{"t":27.82,"v":15.04},{"t":27.88,"v":16.58},{"t":27.57,"v":13.83},{"t":27.82,"v":13.72},{"t":28.36,"v":17.46},{"t":28.67,"v":17.68},{"t":28.67,"v":17.02},{"t":28.67,"v":16.36},{"t":28.67,"v":15.59},{"t":28.97,"v":12.62},{"t":28.73,"v":8.22},{"t":30.37,"v":11.19},{"t":31.22,"v":10.97},{"t":34.74,"v":14.05},{"t":34.98,"v":15.48},{"t":37.05,"v":17.57},{"t":37.9,"v":16.58},{"t":38.45,"v":17.13},{"t":39.11,"v":17.02},{"t":39.24,"v":17.35},{"t":39.85,"v":17.13},{"t":39.91,"v":16.58},{"t":40.03,"v":16.03},{"t":40.09,"v":15.59},{"t":40.52,"v":17.57},{"t":40.45,"v":17.02},{"t":40.76,"v":15.7},{"t":40.7,"v":16.25},{"t":40.94,"v":17.02},{"t":41.06,"v":16.47},{"t":41.3,"v":16.03},{"t":41.54,"v":17.24},{"t":41.79,"v":16.03},{"t":41.97,"v":16.47},{"t":42.03,"v":17.13},{"t":41.97,"v":17.9},{"t":42.03,"v":18.45},{"t":42.09,"v":18.67},{"t":42.39,"v":18.12},{"t":42.58,"v":18.45},{"t":42.88,"v":18.01},{"t":43.36,"v":18.12},{"t":43.61,"v":18.01},{"t":43.97,"v":18.45},{"t":44.22,"v":18.34},{"t":44.22,"v":17.68},{"t":44.7,"v":18.23},{"t":44.94,"v":18.67},{"t":45.86,"v":18.56},{"t":46.04,"v":18.45},{"t":46.89,"v":18.89},{"t":47.31,"v":18.45},{"t":47.62,"v":18.67},{"t":47.62,"v":19.0},{"t":48.41,"v":18.23},{"t":48.83,"v":19.99},{"t":49.2,"v":19.22},{"t":50.29,"v":19.77},{"t":50.65,"v":20.21},{"t":51.99,"v":20.43},{"t":56.3,"v":24.17},{"t":56.3,"v":21.53},{"t":56.3,"v":20.98}
]
},
"bounds":"flush",
"spacing":150,
"vconcat":[
{
"width":1035,"height":247,
"title":{"text":"a","anchor":"start","frame":"group","font":"Liberation Sans","fontSize":36,"fontWeight":"normal","color":"black","baseline":"alphabetic","offset":-5,"dx":-2},
"layer":[
{"data":{"name":"bg"},
"mark":{"type":"point","filled":true,"size":20,"fill":"#e2e2e2","strokeWidth":0,"opacity":1},
"encoding":{
"x":{"field":"t","type":"quantitative","scale":{"domain":[-3.46,59.4],"nice":false,"zero":false},"axis":{"values":[0,10,20,30,40,50],"title":"Pseudotime"}},
"y":{"field":"v","type":"quantitative","scale":{"domain":[0,24.7],"nice":false,"zero":false},"axis":null}}},
{"data":{"name":"a"},"transform":[{"filter":"datum.shape == 'Recirculating'"}],
"mark":{"type":"point","filled":true,"size":90,"stroke":"#1a1a1a","strokeWidth":1,"opacity":1},
"encoding":{
"x":{"field":"t","type":"quantitative"},
"y":{"field":"v","type":"quantitative"},
"shape":{"field":"shape","type":"nominal","scale":{"domain":["Ttrm","Recirculating"],"range":["cross","circle"]},
"legend":{"title":null,"orient":"none","legendX":235,"legendY":-46,"padding":0,"direction":"vertical","symbolSize":170,"symbolFillColor":"white","symbolStrokeColor":"black","symbolStrokeWidth":1.2,"labelFont":"DejaVu Sans","labelFontSize":21,"labelColor":"black","labelOffset":8,"rowPadding":3,"labelLimit":400}},
"fill":{"field":"cat","type":"nominal","scale":{"domain":["TCRVγ9 func.","TCRVγ9 Tex","TCRVγnon-9 func.","TCRVγnon-9 Tex"],"range":["#5ef3f7","#0a32f0","#ff8000","#ee1111"]},
"legend":{"title":null,"orient":"none","legendX":418,"legendY":-46,"padding":0,"columns":2,"columnPadding":11,"direction":"vertical","symbolType":"M -0.72 -1 L 0.72 -1 Q 1 -1 1 -0.72 L 1 0.72 Q 1 1 0.72 1 L -0.72 1 Q -1 1 -1 0.72 L -1 -0.72 Q -1 -1 -0.72 -1 Z","symbolSize":290,"symbolStrokeColor":"black","symbolStrokeWidth":1.2,"labelFont":"DejaVu Sans","labelFontSize":21,"labelColor":"black","labelOffset":6,"rowPadding":3,"labelLimit":400}}}},
{"data":{"name":"a"},"transform":[{"filter":"datum.shape == 'Ttrm'"}],
"mark":{"type":"point","filled":true,"size":150,"stroke":"#1a1a1a","strokeWidth":1,"opacity":1},
"encoding":{
"x":{"field":"t","type":"quantitative"},
"y":{"field":"v","type":"quantitative"},
"shape":{"field":"shape","type":"nominal"},
"fill":{"field":"cat","type":"nominal"}}}
]
},
{
"title":{"text":"b","anchor":"start","frame":"group","font":"Liberation Sans","fontSize":36,"fontWeight":"normal","color":"black","baseline":"alphabetic","offset":-46,"dx":-2},
"bounds":"flush",
"spacing":33,
"vconcat":[
{"width":1035,"height":150,
"title":{"text":"MF318 Patch","anchor":"start","frame":"group","font":"Liberation Sans","fontSize":21,"fontWeight":"normal","color":"black","baseline":"alphabetic","offset":-59,"dx":50},
"layer":[
{"data":{"name":"bg"},"transform":[{"filter":"datum.v > 4.4"}],
"mark":{"type":"point","filled":true,"size":20,"fill":"#dcdad7","strokeWidth":0,"opacity":1},
"encoding":{
"x":{"field":"t","type":"quantitative","scale":{"domain":[-3.46,59.4],"nice":false,"zero":false},"axis":null},
"y":{"field":"v","type":"quantitative","scale":{"domain":[4.38,19.1],"nice":false,"zero":false},"axis":null}}},
{"data":{"name":"patch"},
"mark":{"type":"point","filled":true,"shape":"circle","size":125,"fill":"#ff8000","stroke":"#1a1a1a","strokeWidth":1,"opacity":1},
"encoding":{"x":{"field":"t","type":"quantitative"},"y":{"field":"v","type":"quantitative"}}}
]},
{"width":1035,"height":190,
"title":{"text":"MF318 Plaque","anchor":"start","frame":"group","font":"Liberation Sans","fontSize":21,"fontWeight":"normal","color":"black","baseline":"alphabetic","offset":-47,"dx":51},
"layer":[
{"data":{"name":"bg"},
"mark":{"type":"point","filled":true,"size":20,"fill":"#dcdad7","strokeWidth":0,"opacity":1},
"encoding":{
"x":{"field":"t","type":"quantitative","scale":{"domain":[-3.46,59.4],"nice":false,"zero":false},"axis":{"values":[0,10,20,30,40,50],"title":"Pseudotime"}},
"y":{"field":"v","type":"quantitative","scale":{"domain":[0.85,21.75],"nice":false,"zero":false},"axis":null}}},
{"data":{"name":"plaque"},
"mark":{"type":"point","filled":true,"shape":"circle","size":125,"fill":"#ff8000","stroke":"#1a1a1a","strokeWidth":1,"opacity":1},
"encoding":{"x":{"field":"t","type":"quantitative"},"y":{"field":"v","type":"quantitative"}}}
]}
]
}
]
}
